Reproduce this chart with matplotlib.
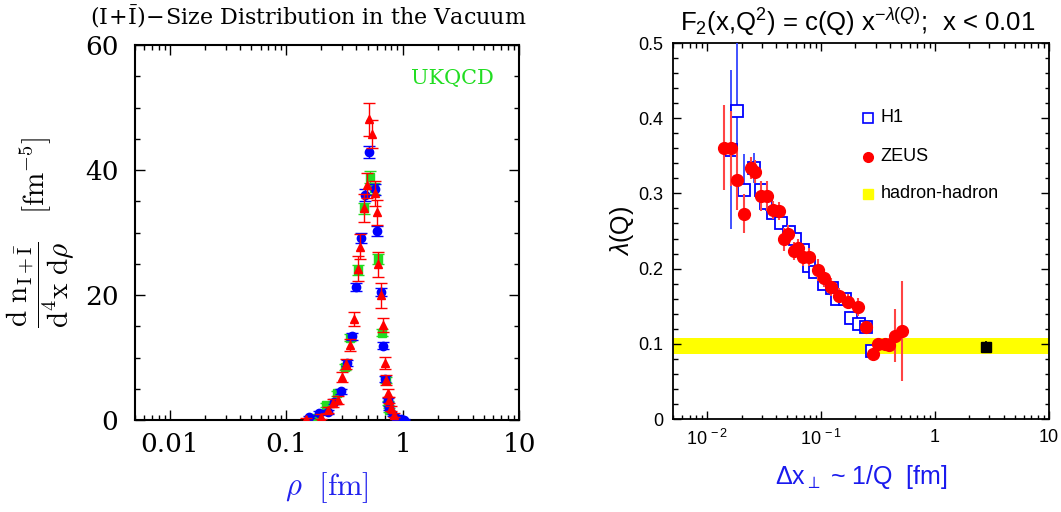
import matplotlib
matplotlib.use("Agg")
import matplotlib.pyplot as plt
import numpy as np
from matplotlib.ticker import LogLocator, MultipleLocator, NullFormatter

plt.rcParams['mathtext.fontset'] = 'custom'
plt.rcParams['mathtext.rm'] = 'Liberation Sans'
plt.rcParams['mathtext.it'] = 'Liberation Sans:italic'
plt.rcParams['mathtext.bf'] = 'Liberation Sans:bold'

# ---------------- Left panel data: instanton size distribution ----------------
red_rho = [0.510, 0.542, 0.491, 0.574, 0.468, 0.598, 0.430, 0.410, 0.618, 0.647,
           0.384, 0.673, 0.352, 0.700, 0.326, 0.301, 0.719, 0.276, 0.250, 0.227,
           0.199, 0.148, 0.743, 0.768, 0.794, 0.848]
red_val = [48.1, 45.8, 37.6, 36.3, 33.9, 33.2, 27.7, 24.2, 24.9, 20.0,
           16.2, 15.2, 12.0, 9.1, 9.0, 6.9, 6.4, 3.2, 2.7, 1.6,
           0.5, 0.1, 4.3, 3.2, 1.9, 0.8]
red_err = [2.6, 2.2, 2.0, 2.0, 2.2, 2.0, 2.0, 2.0, 2.0, 2.0,
           1.1, 1.1, 1.0, 1.0, 0.8, 0.8, 0.8, 0.6, 0.6, 0.5,
           0.4, 0.3, 0.6, 0.5, 0.4, 0.3]

blue_rho = [0.517, 0.578, 0.471, 0.606, 0.436, 0.400, 0.647, 0.364, 0.682, 0.330,
            0.710, 0.295, 0.259, 0.227, 0.190, 0.158, 0.743, 0.768, 0.820, 0.876,
            0.967, 1.030]
blue_val = [42.9, 36.9, 36.0, 30.2, 29.1, 21.3, 20.5, 13.4, 11.9, 9.1,
            6.6, 4.6, 2.9, 1.3, 1.07, 0.5, 3.2, 1.9, 0.8, 0.27,
            0.1, 0.05]
blue_err = [1.0, 0.9, 0.9, 0.8, 0.8, 0.7, 0.7, 0.6, 0.6, 0.5,
            0.5, 0.4, 0.4, 0.3, 0.3, 0.2, 0.3, 0.3, 0.2, 0.1,
            0.1, 0.05]

green_rho = [0.524, 0.563, 0.468, 0.618, 0.416, 0.665, 0.355, 0.322, 0.719, 0.271,
             0.219, 0.168, 0.743, 0.770]
green_val = [38.9, 37.1, 33.9, 25.7, 24.0, 14.0, 13.2, 8.5, 6.4, 4.3,
             2.4, 0.27, 2.7, 1.6]
green_err = [0.9, 0.9, 0.9, 0.8, 0.8, 0.6, 0.6, 0.5, 0.5, 0.4,
             0.3, 0.2, 0.3, 0.3]

left_xticks = [0.01, 0.1, 1, 10]
left_xticklabels = ['0.01', '0.1', '1', '10']
left_yticks = [0, 20, 40, 60]

# ---------------- Right panel data: lambda(Q) ----------------
h1_x = [0.0161, 0.0181, 0.0210, 0.0257, 0.0294, 0.0327, 0.0379, 0.0440, 0.0524,
        0.0588, 0.0695, 0.0780, 0.0880, 0.1056, 0.1250, 0.139, 0.161, 0.181,
        0.215, 0.245, 0.280]
h1_lam = [0.358, 0.409, 0.305, 0.334, 0.305, 0.287, 0.274, 0.260, 0.249,
          0.240, 0.225, 0.203, 0.195, 0.179, 0.174, 0.160, 0.160, 0.134,
          0.126, 0.122, 0.091]
h1_err = [0.106, 0.100, 0.047, 0.020, 0.010, 0.010, 0.008, 0.008, 0.008,
          0.008, 0.008, 0.007, 0.007, 0.007, 0.007, 0.006, 0.006, 0.006,
          0.006, 0.006, 0.006]

zeus_x = [0.0140, 0.0163, 0.0181, 0.0210, 0.0240, 0.0263, 0.0296, 0.0336, 0.0379,
          0.0428, 0.0471, 0.0508, 0.0579, 0.0627, 0.0686, 0.0780, 0.0930, 0.1056,
          0.1216, 0.1438, 0.1726, 0.209, 0.245, 0.2822, 0.3126, 0.3623, 0.393,
          0.443, 0.514]
zeus_lam = [0.361, 0.360, 0.318, 0.273, 0.334, 0.329, 0.296, 0.296, 0.278,
            0.276, 0.239, 0.246, 0.224, 0.227, 0.215, 0.215, 0.198, 0.188,
            0.175, 0.164, 0.156, 0.149, 0.122, 0.0865, 0.0994, 0.0994, 0.0985,
            0.111, 0.117]
zeus_err = [0.057, 0.050, 0.040, 0.026, 0.015, 0.015, 0.020, 0.020, 0.012,
            0.012, 0.015, 0.012, 0.012, 0.012, 0.012, 0.012, 0.015, 0.012,
            0.012, 0.010, 0.010, 0.012, 0.008, 0.007, 0.006, 0.006, 0.009,
            0.035, 0.066]

hh_band = (0.0865, 0.108)
hh_x = [2.78]
hh_lam = [0.0962]
hh_err = [0.007]

right_xticks = [0.01, 0.1, 1, 10]
right_xticklabels = ['$10^{\\,-2}$', '$10^{\\,-1}$', '1', '10']
right_yticks = [0, 0.1, 0.2, 0.3, 0.4, 0.5]
right_yticklabels = ['0', '0.1', '0.2', '0.3', '0.4', '0.5']

W, H = 1061, 512
fig = plt.figure(figsize=(W / 100, H / 100), dpi=100)

def frac(x0, y0, x1, y1):
    return [x0 / W, 1 - y1 / H, (x1 - x0) / W, (y1 - y0) / H]

px = 0.72  # points per pixel

# ================= LEFT PANEL =================
axL = fig.add_axes(frac(135, 45, 519, 420))
axL.set_xscale('log')
axL.set_xlim(0.005, 10)
axL.set_ylim(0, 60)

common_eb = dict(linestyle='none', capsize=4, elinewidth=1.0, capthick=1.0)
axL.errorbar(green_rho, green_val, yerr=green_err, fmt='s', color='#22dd22',
             ms=6, mec='#22dd22', **common_eb, zorder=3)
axL.errorbar(blue_rho, blue_val, yerr=blue_err, fmt='o', color='#0000ff',
             ms=6, **common_eb, zorder=4)
axL.errorbar(red_rho, red_val, yerr=red_err, fmt='^', color='#ff0000',
             ms=6, **common_eb, zorder=5)

axL.set_xticks(left_xticks)
axL.set_xticklabels(left_xticklabels)
axL.xaxis.set_minor_locator(LogLocator(base=10, subs=np.arange(2, 10)))
axL.xaxis.set_minor_formatter(NullFormatter())
axL.set_yticks(left_yticks)
axL.yaxis.set_minor_locator(MultipleLocator(5))
for lab in axL.get_xticklabels() + axL.get_yticklabels():
    lab.set_fontfamily('DejaVu Serif')
    lab.set_fontsize(19)
axL.tick_params(which='both', direction='in', top=True, right=True, width=1.0)
axL.tick_params(axis='x', which='major', length=10 * px, pad=9)
axL.tick_params(axis='y', which='major', length=10 * px, pad=12)
axL.tick_params(which='minor', length=5 * px)
for s in axL.spines.values():
    s.set_linewidth(1.5)

axL.set_xlabel(r'$\rho\ \ [\mathrm{fm}]$', fontsize=22, color='#2222ee',
               math_fontfamily='cm', labelpad=9)
axL.set_ylabel(r'$\dfrac{\mathrm{d\ n_{I+\bar{I}}}}{\mathrm{d^4x\ d}\rho}\ \ \ [\mathrm{fm}^{-5}]$',
               fontsize=21, math_fontfamily='cm', labelpad=6)
axL.set_title(r'$\mathrm{(I\!+\!\bar{I})\!-\!Size\ Distribution\ in\ the\ Vacuum}$',
              fontsize=16, math_fontfamily='dejavuserif', pad=15, x=0.45)
axL.text(0.935, 0.91, 'UKQCD', transform=axL.transAxes, ha='right', va='center',
         fontsize=15, color='#22dd22', fontfamily='DejaVu Serif')

# ================= RIGHT PANEL =================
axR = fig.add_axes(frac(673, 43, 1049, 419))
axR.set_xscale('log')
axR.set_xlim(0.005, 10)
axR.set_ylim(0, 0.5)

axR.axhspan(hh_band[0], hh_band[1], color='#ffff00', lw=0, zorder=1)
axR.errorbar(h1_x, h1_lam, yerr=h1_err, fmt='s', ms=8, mfc='white', mec='#0000ff',
             mew=1.3, ecolor='#3344ff', elinewidth=1.3, linestyle='none', zorder=3)
axR.errorbar(zeus_x, zeus_lam, yerr=zeus_err, fmt='o', ms=8.5, color='#ff0000',
             ecolor='#ff4444', elinewidth=1.5, linestyle='none', zorder=4)
axR.errorbar(hh_x, hh_lam, yerr=hh_err, fmt='s', ms=7, color='black',
             elinewidth=1.2, linestyle='none', zorder=5)

axR.set_xticks(right_xticks)
axR.set_xticklabels(right_xticklabels)
axR.xaxis.set_minor_locator(LogLocator(base=10, subs=np.arange(2, 10)))
axR.xaxis.set_minor_formatter(NullFormatter())
axR.set_yticks(right_yticks)
axR.set_yticklabels(right_yticklabels)
axR.yaxis.set_minor_locator(MultipleLocator(0.02))
for lab in axR.get_xticklabels() + axR.get_yticklabels():
    lab.set_fontfamily('Liberation Sans')
    lab.set_fontsize(13)
axR.tick_params(which='both', direction='in', top=True, right=True, width=1.0)
axR.tick_params(which='major', length=8 * px, pad=7)
axR.tick_params(which='minor', length=4.5 * px)
for s in axR.spines.values():
    s.set_linewidth(1.3)

axR.set_xlabel(r'$\Delta$x$_{\perp}$ ~ 1/Q  [fm]', fontsize=18, color='#1a1aee',
               fontfamily='Liberation Sans', labelpad=10)
axR.set_ylabel(r'$\lambda$(Q)', fontsize=18, fontfamily='Liberation Sans', labelpad=2)
axR.set_title(r'F$_2$(x,Q$^2$) = c(Q) x$^{-\lambda(Q)}$;  x < 0.01', fontsize=18.5,
              fontfamily='Liberation Sans', pad=9, x=0.49)

# legend
leg_y = [0.801, 0.697, 0.599]
axR.plot([0.518], [leg_y[0]], 's', ms=7, mfc='white', mec='#0000ff', mew=1.2,
         transform=axR.transAxes)
axR.plot([0.518], [leg_y[1]], 'o', ms=7, color='#ff0000', transform=axR.transAxes)
axR.plot([0.518], [leg_y[2]], 's', ms=7, color='#ffff00', transform=axR.transAxes)
for yy, t in zip(leg_y, ['H1', 'ZEUS', 'hadron-hadron']):
    axR.text(0.552, yy, t, transform=axR.transAxes, va='center', ha='left',
             fontsize=13, fontfamily='Liberation Sans')

fig.savefig('out.png', dpi=100)
